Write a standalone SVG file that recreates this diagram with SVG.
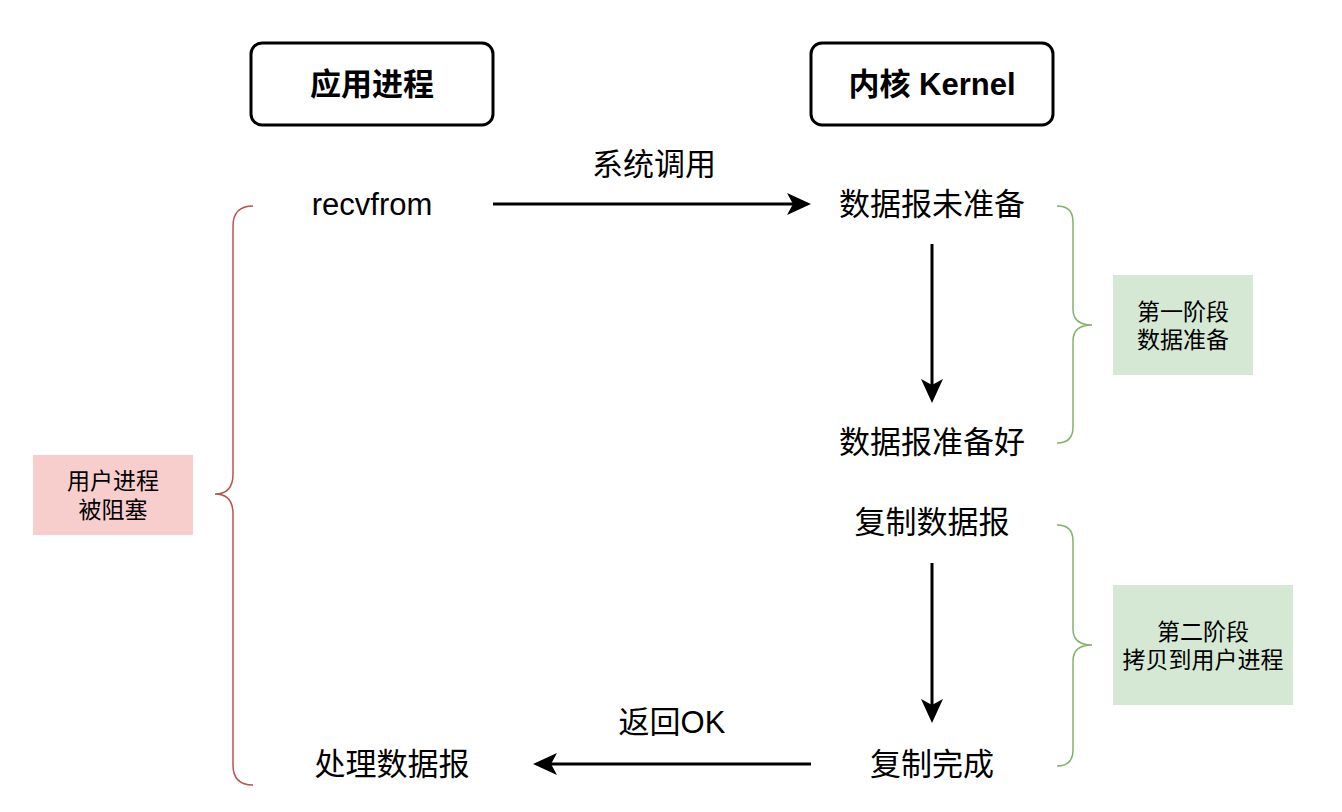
<svg xmlns="http://www.w3.org/2000/svg" width="1342" height="812" viewBox="0 0 1342 812">
<style>
text{font-family:"Liberation Sans","Noto Sans CJK SC",sans-serif;fill:#000;text-anchor:middle;dominant-baseline:central}
.hd{font-size:31px;font-weight:bold}
.m{font-size:31px}
.s{font-size:23px}
.hbox{fill:#fff;stroke:#000;stroke-width:3}
.edge{fill:none;stroke:#000;stroke-width:3}
.red{fill:none;stroke:#b85450;stroke-width:1.5}
.grn{fill:none;stroke:#82b366;stroke-width:1.5}
</style>
<defs>
<marker id="arr" viewBox="0 0 24 22" refX="14" refY="11" markerWidth="24" markerHeight="22" markerUnits="userSpaceOnUse" orient="auto">
<path d="M0,0 L24,11 L0,22 L6,11 Z" fill="#000"/>
</marker>
</defs>
<rect width="1342" height="812" fill="#fff"/>
<g id="app"><rect class="hbox" x="251" y="43" width="242" height="82" rx="11"/><text class="hd" x="372" y="84">应用进程</text></g>
<g id="kernel"><rect class="hbox" x="811" y="43" width="242" height="82" rx="11"/><text class="hd" x="932" y="84">内核 Kernel</text></g>
<g id="recvfrom"><text class="m" x="372" y="204">recvfrom</text></g>
<g id="notready"><text class="m" x="932" y="204">数据报未准备</text></g>
<g id="ready"><text class="m" x="932" y="442">数据报准备好</text></g>
<g id="copy"><text class="m" x="932" y="522">复制数据报</text></g>
<g id="copydone"><text class="m" x="932" y="764">复制完成</text></g>
<g id="process"><text class="m" x="392" y="764">处理数据报</text></g>
<g id="blocked"><rect x="33" y="455" width="160" height="80" fill="#f8cecc"/><text class="s" x="113" y="481">用户进程</text><text class="s" x="113" y="510">被阻塞</text></g>
<g id="phase1"><rect x="1113" y="275" width="140" height="100" fill="#d5e8d4"/><text class="s" x="1183" y="312">第一阶段</text><text class="s" x="1183" y="340">数据准备</text></g>
<g id="phase2"><rect x="1113" y="585" width="180" height="120" fill="#d5e8d4"/><text class="s" x="1203" y="632">第二阶段</text><text class="s" x="1203" y="660">拷贝到用户进程</text></g>
<g id="braces">
<path class="red" d="M253,206 Q233,206 233,226 L233,474 Q233,494 215,494 Q233,494 233,514 L233,765 Q233,785 253,785"/>
<path class="grn" d="M1057,206 Q1073,206 1073,222 L1073,309 Q1073,325 1092,325 Q1073,325 1073,341 L1073,427 Q1073,443 1057,443"/>
<path class="grn" d="M1057,525 Q1073,525 1073,541 L1073,629 Q1073,645 1092,645 Q1073,645 1073,661 L1073,750 Q1073,766 1057,766"/>
</g>
<g id="connectors">
<path class="edge" d="M493,204 L801,204" marker-end="url(#arr)"/>
<text class="m" x="654" y="164">系统调用</text>
<path class="edge" d="M932,244 L932,393" marker-end="url(#arr)"/>
<path class="edge" d="M932,563 L932,713" marker-end="url(#arr)"/>
<path class="edge" d="M811,764 L543,764" marker-end="url(#arr)"/>
<text class="m" x="672" y="722">返回OK</text>
</g>
</svg>
